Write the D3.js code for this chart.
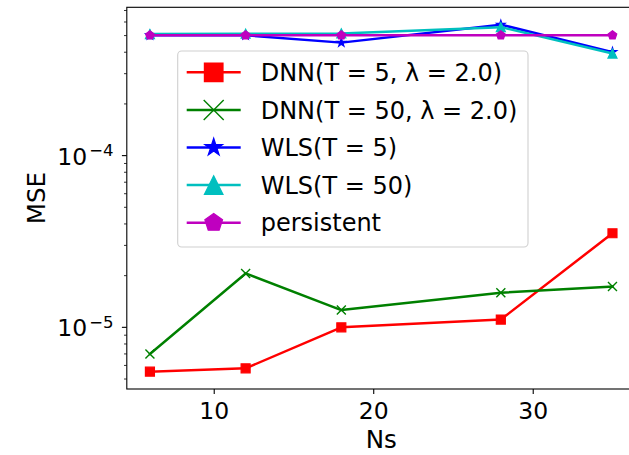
<!DOCTYPE html>
<html>
<head>
<meta charset="utf-8">
<script src="https://cdn.jsdelivr.net/npm/d3@7"></script>
<style>
  html, body { margin: 0; padding: 0; background: #fff; }
  svg { display: block; font-family: "DejaVu Sans", sans-serif; }
</style>
</head>
<body>
<div id="chart"></div>
<script>
// Number of sensors on the x axis
const Ns = [6, 12, 18, 28, 35];

// Mean squared error of each method
const dnnT5 = [5.52e-6, 5.77e-6, 1.0e-5, 1.11e-5, 3.53e-5];
const dnnT50 = [7.0e-6, 2.06e-5, 1.26e-5, 1.59e-5, 1.73e-5];
const wlsT5 = [5.02e-4, 5.02e-4, 4.55e-4, 5.79e-4, 4.01e-4];
const wlsT50 = [5.10e-4, 5.13e-4, 5.15e-4, 5.60e-4, 3.93e-4];
const persistent = [5.02e-4, 5.02e-4, 5.02e-4, 5.02e-4, 5.02e-4];

const seriesNames = ["DNN(T = 5, λ = 2.0)", "DNN(T = 50, λ = 2.0)", "WLS(T = 5)", "WLS(T = 50)", "persistent"];
const xTicks = [10, 20, 30];
const yMajorTicks = [1e-5, 1e-4];
const yTickExponents = ["−5", "−4"];

const series = [
  { name: seriesNames[0], values: dnnT5, color: "#ff0000", marker: "square" },
  { name: seriesNames[1], values: dnnT50, color: "#008000", marker: "x" },
  { name: seriesNames[2], values: wlsT5, color: "#0000ff", marker: "star" },
  { name: seriesNames[3], values: wlsT50, color: "#00bfbf", marker: "triangle" },
  { name: seriesNames[4], values: persistent, color: "#bf00bf", marker: "pentagon" }
];

const W = 629, H = 455;
const plot = { left: 126.8, right: 635.6, top: 7.3, bottom: 389 };
const tickFont = 23.5, labelFont = 24.5, legendFont = 24;

const svg = d3.select("#chart").append("svg")
  .attr("width", W).attr("height", H).attr("viewBox", `0 0 ${W} ${H}`);

// x domain with 5% padding on each side
const xMin = d3.min(Ns), xMax = d3.max(Ns), xPad = (xMax - xMin) * 0.05;
const x = d3.scaleLinear().domain([xMin - xPad, xMax + xPad]).range([plot.left, plot.right]);

// y domain padded by 5% in log space
const allY = series.flatMap(s => s.values);
const lyMin = Math.log10(d3.min(allY)), lyMax = Math.log10(d3.max(allY));
const lyPad = (lyMax - lyMin) * 0.05;
const y = d3.scaleLog()
  .domain([Math.pow(10, lyMin - lyPad), Math.pow(10, lyMax + lyPad)])
  .range([plot.bottom, plot.top]);

// marker paths centred on the origin; r is half the marker size
function markerPath(type, r) {
  const p = d3.path();
  if (type === "square") {
    p.rect(-r, -r, 2 * r, 2 * r);
  } else if (type === "x") {
    p.moveTo(-r, -r); p.lineTo(r, r);
    p.moveTo(-r, r); p.lineTo(r, -r);
  } else if (type === "triangle") {
    p.moveTo(0, -r); p.lineTo(-r, r); p.lineTo(r, r); p.closePath();
  } else if (type === "pentagon") {
    for (let i = 0; i < 5; i++) {
      const a = -Math.PI / 2 + i * 2 * Math.PI / 5;
      if (i === 0) p.moveTo(r * Math.cos(a), r * Math.sin(a));
      else p.lineTo(r * Math.cos(a), r * Math.sin(a));
    }
    p.closePath();
  } else if (type === "star") {
    const ri = r * 0.381966;
    for (let i = 0; i < 10; i++) {
      const a = -Math.PI / 2 + i * Math.PI / 5;
      const rr = i % 2 === 0 ? r : ri;
      if (i === 0) p.moveTo(rr * Math.cos(a), rr * Math.sin(a));
      else p.lineTo(rr * Math.cos(a), rr * Math.sin(a));
    }
    p.closePath();
  }
  return p.toString();
}

function drawMarker(g, type, color, r) {
  const m = g.append("path").attr("d", markerPath(type, r));
  if (type === "x") {
    m.attr("fill", "none").attr("stroke", color).attr("stroke-width", 1.4);
  } else {
    m.attr("fill", color).attr("stroke", color).attr("stroke-width", 1.2)
      .attr("stroke-linejoin", "miter");
  }
  return m;
}

// data lines and markers
const line = d3.line().x((d, i) => x(Ns[i])).y(d => y(d));
const plotG = svg.append("g");
series.forEach(s => {
  plotG.append("path").datum(s.values)
    .attr("d", line)
    .attr("fill", "none")
    .attr("stroke", s.color)
    .attr("stroke-width", 2.5)
    .attr("stroke-linejoin", "round")
    .attr("stroke-linecap", "square");
  s.values.forEach((v, i) => {
    const g = plotG.append("g").attr("transform", `translate(${x(Ns[i])},${y(v)})`);
    drawMarker(g, s.marker, s.color, 4.5);
  });
});

// axes frame
const frame = svg.append("g").attr("stroke", "#000").attr("stroke-width", 1.1).attr("fill", "none");
frame.append("rect")
  .attr("x", plot.left).attr("y", plot.top)
  .attr("width", plot.right - plot.left).attr("height", plot.bottom - plot.top);

// x axis
const xAxis = svg.append("g").attr("transform", `translate(0,${plot.bottom})`)
  .call(d3.axisBottom(x).tickValues(xTicks).tickSize(4.9).tickPadding(4.9).tickFormat(d3.format("d")));
xAxis.select(".domain").remove();
xAxis.selectAll(".tick line").attr("stroke", "#000").attr("stroke-width", 1.1);
xAxis.selectAll(".tick text")
  .attr("dy", null).attr("y", 30)
  .attr("font-family", "DejaVu Sans").attr("font-size", tickFont).attr("fill", "#000");

// y axis: major ticks with power-of-ten labels, minor ticks in between
const yAxis = svg.append("g").attr("transform", `translate(${plot.left},0)`);
const [d0, d1] = y.domain();
const minorTicks = [];
for (let e = Math.floor(Math.log10(d0)); e <= Math.ceil(Math.log10(d1)); e++) {
  for (let k = 2; k <= 9; k++) {
    const v = k * Math.pow(10, e);
    if (v >= d0 && v <= d1) minorTicks.push(v);
  }
}
yAxis.selectAll("line.minor").data(minorTicks).join("line")
  .attr("class", "minor")
  .attr("x1", -2.8).attr("x2", 0)
  .attr("y1", d => y(d)).attr("y2", d => y(d))
  .attr("stroke", "#000").attr("stroke-width", 0.8);
yAxis.selectAll("line.major").data(yMajorTicks).join("line")
  .attr("class", "major")
  .attr("x1", -4.9).attr("x2", 0)
  .attr("y1", d => y(d)).attr("y2", d => y(d))
  .attr("stroke", "#000").attr("stroke-width", 1.1);
const yLabels = yAxis.selectAll("text.ylab").data(yMajorTicks).join("text")
  .attr("class", "ylab")
  .attr("x", -13.3)
  .attr("y", d => y(d) + 9)
  .attr("text-anchor", "end")
  .attr("font-size", tickFont)
  .attr("fill", "#000");
yLabels.append("tspan").text("10");
yLabels.append("tspan").attr("dx", 2).attr("dy", -8.5).attr("font-size", 16.5).text((d, i) => yTickExponents[i]);

// axis titles
svg.append("text")
  .attr("x", (plot.left + plot.right) / 2).attr("y", 448)
  .attr("text-anchor", "middle").attr("font-size", labelFont).attr("fill", "#000")
  .text("Ns");
svg.append("text")
  .attr("transform", `translate(45,${(plot.top + plot.bottom) / 2}) rotate(-90)`)
  .attr("text-anchor", "middle").attr("font-size", labelFont).attr("fill", "#000")
  .text("MSE");

// legend
const legend = svg.append("g");
legend.append("rect")
  .attr("x", 177.7).attr("y", 51).attr("width", 350.3).attr("height", 196)
  .attr("rx", 4).attr("ry", 4)
  .attr("fill", "#fff").attr("fill-opacity", 0.8)
  .attr("stroke", "#d0d0d0").attr("stroke-width", 1.1);
series.forEach((s, i) => {
  const cy = 72.3 + i * 37.6;
  const row = legend.append("g");
  row.append("line")
    .attr("x1", 186.7).attr("x2", 240.7).attr("y1", cy).attr("y2", cy)
    .attr("stroke", s.color).attr("stroke-width", 2.5);
  const mg = row.append("g").attr("transform", `translate(213.7,${cy})`);
  drawMarker(mg, s.marker, s.color, s.marker === "x" ? 10 : 9.3);
  row.append("text")
    .attr("x", 260.7).attr("y", cy + 8.6)
    .attr("font-size", legendFont).attr("fill", "#000")
    .text(s.name);
});
</script>
</body>
</html>
